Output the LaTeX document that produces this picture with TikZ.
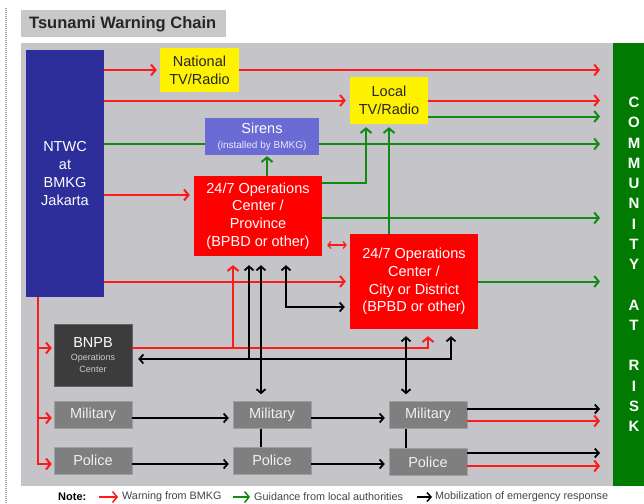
\documentclass[tikz,border=0pt]{standalone}
\usepackage{fontspec}
\setmainfont{Liberation Sans}
\usepackage{xcolor}
\usepackage{tikz}
\usetikzlibrary{positioning,arrows.meta,calc}
\definecolor{tPanel}{HTML}{C5C4C9}
\definecolor{tTitle}{HTML}{C8C8C8}
\definecolor{tBlue}{HTML}{2E2E9A}
\definecolor{tLilac}{HTML}{6B6BD6}
\definecolor{tRed}{HTML}{FF0000}
\definecolor{tWarn}{HTML}{FF1A1A}
\definecolor{tGuide}{HTML}{138A13}
\definecolor{tGreenBar}{HTML}{007A00}
\definecolor{tDark}{HTML}{3C3C3C}
\definecolor{tUnit}{HTML}{7F7F7F}
\definecolor{tNote}{HTML}{444444}
\newcommand{\smalltext}[1]{{\fontsize{9}{11}\selectfont\color{white!80!black}#1}}
\tikzset{
 boxtext/.style={inner sep=0pt, align=center, font=\fontsize{14.5}{17.7}\selectfont},
 warn/.style={tWarn, line width=2pt, -{Straight Barb[length=4.5pt,width=11pt]}},
 guide/.style={tGuide, line width=2pt, -{Straight Barb[length=4.5pt,width=11pt]}},
 mobil/.style={black, line width=1.8pt, -{Straight Barb[length=4pt,width=9pt]}},
 mobiltwo/.style={black, line width=1.8pt, {Straight Barb[length=4pt,width=9pt]}-{Straight Barb[length=4pt,width=9pt]}},
 notetext/.style={anchor=west, inner sep=0pt, text=tNote, font=\fontsize{10.8}{12}\selectfont},
}
\newcommand{\unitnode}[3]{%
 \node[boxtext, fill=tUnit, draw=tUnit!75!white, text=white!94!black, minimum width=78pt, minimum height=27pt] (#2) at (#1) {#3};}

\begin{document}
\begin{tikzpicture}[x=1pt,y=-1pt]
\useasboundingbox (0,0) rectangle (644,503);
\fill[white] (0,0) rectangle (644,503);
\draw[gray!70, line width=1.5pt, dash pattern=on 1pt off 1pt] (6,8) -- (6,503);
\fill[tTitle] (21,10) rectangle (226,37);
\node[anchor=west, inner sep=0pt, font=\fontsize{16.5}{18}\selectfont\bfseries, text=black!85] (title) at (29,24) {Tsunami Warning Chain};
\fill[tPanel] (21,43) rectangle (613,486);
\fill[tGreenBar] (613,43) rectangle (644,486);
\node[inner sep=0pt, align=center, text=white, font=\fontsize{15}{20.25}\selectfont\bfseries] (comm) at (634,264.5)
 {C\\O\\M\\M\\U\\N\\I\\T\\Y\\[20.25pt]A\\T\\[20.25pt]R\\I\\S\\K};
\coordinate (edge) at (600,0);

\node[boxtext, fill=tBlue, text=white, minimum width=78pt, minimum height=247pt] (ntwc) at (65,173.5) {NTWC\\at\\BMKG\\Jakarta};
\node[boxtext, fill=yellow, text=black!85, minimum width=79pt, minimum height=43pt] (natl) at (199.5,70) {National\\TV/Radio};
\node[boxtext, fill=yellow, text=black!85, minimum width=78pt, minimum height=47pt] (local) at (389,100.5) {Local\\TV/Radio};
\node[boxtext, fill=tLilac, text=white, minimum width=114pt, minimum height=37pt] (sirens) at (262,136.5)
 {Sirens\\[-3pt]{\fontsize{10}{12}\selectfont\color{white!85!tLilac}(installed by BMKG)}};
\node[boxtext, fill=tRed, text=white, minimum width=128pt, minimum height=80pt] (prov) at (258,216) {24/7 Operations\\Center /\\Province\\(BPBD or other)};
\node[boxtext, fill=tRed, text=white, minimum width=128pt, minimum height=95pt] (city) at (414,281.5) {24/7 Operations\\Center /\\City or District\\(BPBD or other)};
\node[boxtext, fill=tDark, draw=tDark!80!white, text=white, minimum width=78pt, minimum height=62pt] (bnpb) at (93,355)
 {BNPB\\[-5pt]\smalltext{Operations}\\[-6pt]\smalltext{Center}};
\unitnode{93,415}{mil1}{Military}
\unitnode{93,460.5}{pol1}{Police}
\unitnode{272,415}{mil2}{Military}
\unitnode{272,460.5}{pol2}{Police}
\unitnode{428,415}{mil3}{Military}
\unitnode{428,462}{pol3}{Police}

\draw[warn, shorten >=3pt] (ntwc.east |- natl.west) -- (natl.west);
\draw[warn] (natl.east) -- (natl.east -| edge);
\draw[warn, shorten >=4pt] (ntwc.east |- local.west) -- (local.west);
\draw[warn] (local.east) -- (local.east -| edge);
\draw[guide] ([yshift=-16pt]local.east) -- ([yshift=-16pt]local.east -| edge);
\coordinate (sirenline) at ([yshift=-7.5pt]sirens.west);
\draw[guide, -] (ntwc.east |- sirenline) -- (sirenline);
\draw[guide] (sirenline -| sirens.east) -- (sirenline -| edge);
\coordinate (provin) at ([yshift=21pt]prov.west);
\draw[warn, shorten >=4pt] (ntwc.east |- provin) -- (provin);
\draw[warn, shorten >=4pt] (ntwc.east |- city.west) -- (city.west);
\draw[guide, shorten >=1pt] ([xshift=9pt]prov.north) -- ([xshift=9pt]prov.north |- sirens.south);
\draw[guide, shorten >=3pt] ([yshift=33pt]prov.east) -| ([xshift=-23pt]local.south);
\draw[guide, shorten >=3pt] (local.south |- city.north) -- (local.south);
\draw[guide] ([yshift=-2pt]prov.east) -- ([yshift=-2pt]prov.east -| edge);
\draw[guide] (city.east) -- (city.east -| edge);
\coordinate (pair) at ([yshift=-29pt]prov.east);
\draw[tWarn, line width=1.2pt, {Straight Barb[length=3pt,width=7pt]}-{Straight Barb[length=3pt,width=7pt]}, shorten <=5pt, shorten >=3pt] (pair) -- (pair -| city.west);

\coordinate (trunk) at ([xshift=-27pt]ntwc.south);
\draw[warn, shorten >=2pt] (trunk) |- ([yshift=-3.5pt]pol1.west);
\draw[warn, shorten >=2pt] ([xshift=-16pt,yshift=7pt]bnpb.west) -- ([yshift=7pt]bnpb.west);
\draw[warn, shorten >=2pt] ([xshift=-16pt,yshift=-3pt]mil1.west) -- ([yshift=-3pt]mil1.west);

\coordinate (bred) at ([yshift=7pt]bnpb.east);
\coordinate (provred) at ([xshift=-25pt]prov.south);
\draw[warn, shorten >=7pt] (bred) -| ([xshift=14pt]city.south);
\draw[warn, shorten >=9pt] (bred -| provred) -- (provred);
\coordinate (bblk) at ([yshift=-4pt]bnpb.east);
\coordinate (provblk) at ([xshift=-9pt]prov.south);
\draw[mobiltwo, shorten <=7pt, shorten >=6pt] ([xshift=37pt]city.south) |- (bblk);
\draw[mobil, shorten >=9pt] (bblk -| provblk) -- (provblk);
\draw[mobiltwo, shorten <=9pt, shorten >=7pt] ([xshift=3pt]prov.south) -- ([xshift=3pt]prov.south |- mil2.north);
\draw[mobiltwo, shorten <=9pt, shorten >=5pt] ([xshift=28pt]prov.south) |- ([yshift=-25.5pt]city.west);
\draw[mobiltwo, shorten <=7pt, shorten >=7pt] ([xshift=-8pt]city.south) -- ([xshift=-8pt]city.south |- mil3.north);
\draw[black, line width=1.8pt] ([xshift=-11pt]mil2.south) -- ([xshift=-11pt]pol2.north);
\draw[black, line width=1.8pt] ([xshift=-22pt]mil3.south) -- ([xshift=-22pt]pol3.north);
\draw[mobil, shorten >=4pt] ([yshift=-3pt]mil1.east) -- ([yshift=-3pt]mil1.east -| mil2.west);
\draw[mobil, shorten >=4pt] ([yshift=-3.5pt]pol1.east) -- ([yshift=-3.5pt]pol1.east -| pol2.west);
\draw[mobil, shorten >=4pt] ([yshift=-3pt]mil2.east) -- ([yshift=-3pt]mil2.east -| mil3.west);
\draw[mobil, shorten >=4pt] ([yshift=-3.5pt]pol2.east) -- ([yshift=-3.5pt]pol2.east -| pol3.west);
\draw[mobil] ([yshift=6pt]mil3.east) -- ([yshift=6pt]mil3.east -| edge);
\draw[warn] ([yshift=-6pt]mil3.east) -- ([yshift=-6pt]mil3.east -| edge);
\draw[mobil] ([yshift=9pt]pol3.east) -- ([yshift=9pt]pol3.east -| edge);
\draw[warn] ([yshift=-4pt]pol3.east) -- ([yshift=-4pt]pol3.east -| edge);

\node[anchor=west, inner sep=0pt, font=\fontsize{11}{12}\selectfont\bfseries] (note) at (58,497) {Note:};
\node[notetext] (warntext) at (122,497) {Warning from BMKG};
\node[notetext] (guidetext) at (254,497) {Guidance from local authorities};
\node[notetext] (mobiltext) at (435,497) {Mobilization of emergency response};
\draw[warn, line width=1.5pt] ([xshift=-23pt]warntext.west) -- ([xshift=-4pt]warntext.west);
\draw[guide, line width=1.5pt] ([xshift=-21pt]guidetext.west) -- ([xshift=-4pt]guidetext.west);
\draw[mobil, line width=1.5pt] ([xshift=-18pt]mobiltext.west) -- ([xshift=-3pt]mobiltext.west);
\end{tikzpicture}
\end{document}
